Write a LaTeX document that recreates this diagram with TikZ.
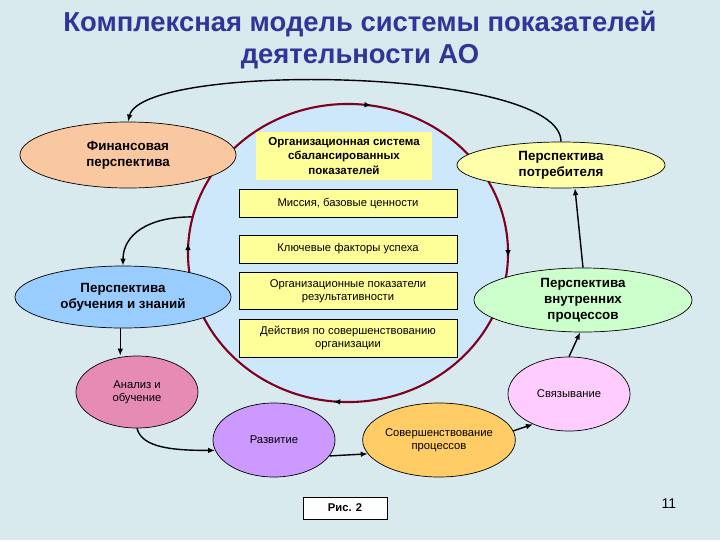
\documentclass[tikz,border=0pt]{standalone}
\usepackage{fontspec}
\setmainfont{Liberation Sans}
\usetikzlibrary{shapes.geometric, arrows.meta, decorations.markings}
\definecolor{bgc}{RGB}{216,234,238}
\definecolor{circc}{RGB}{204,232,250}
\definecolor{bordc}{RGB}{128,0,32}
\definecolor{yelc}{RGB}{255,255,153}
\definecolor{titc}{RGB}{51,51,153}
\definecolor{finc}{RGB}{250,200,160}
\definecolor{potc}{RGB}{255,255,170}
\definecolor{obuc}{RGB}{153,204,255}
\definecolor{vnuc}{RGB}{204,255,204}
\definecolor{anac}{RGB}{230,140,180}
\definecolor{razc}{RGB}{204,153,255}
\definecolor{sovc}{RGB}{255,204,102}
\definecolor{svyc}{RGB}{255,204,255}
\begin{document}
\begin{tikzpicture}[x=0.025cm, y=-0.025cm, >={Latex[length=5pt,width=4pt]},
    every node/.style={font=\fontsize{8}{9.5}\selectfont, align=center},
    ell/.style={ellipse, draw=black, line width=0.5pt, inner sep=0pt},
    persp/.style={ell, font=\bfseries\fontsize{9.5}{11.5}\selectfont},
    smell/.style={ell, minimum width=3.05cm, minimum height=1.85cm},
    ybox/.style={rectangle, draw=black, line width=0.5pt, fill=yelc, minimum width=5.45cm, inner sep=0pt},
    arr/.style={->, line width=1pt},
    circarr/.style={postaction={decorate}, decoration={markings,
      mark=at position 0.003 with {\arrow[black]{Latex[length=5pt,width=4pt,reversed]}},
      mark=at position 0.233 with {\arrow[black]{Latex[length=5pt,width=4pt,reversed]}},
      mark=at position 0.497 with {\arrow[black]{Latex[length=5pt,width=4pt,reversed]}},
      mark=at position 0.742 with {\arrow[black]{Latex[length=5pt,width=4pt,reversed]}}}}]
  % slide background, 720 x 540 px
  \fill[bgc] (0,0) rectangle (720,540);
  \node[text=titc, font=\bfseries\fontsize{19.5}{22.5}\selectfont] (title) at (360,40)
    {Комплексная модель системы показателей\\деятельности АО};
  % central scorecard circle
  \node[ell, draw=bordc, line width=1.5pt, fill=circc, minimum width=8cm,
    minimum height=7.45cm, circarr] (org) at (348,253) {};
  \node[fill=yelc, minimum width=4.375cm, minimum height=1.175cm, inner sep=0pt,
    font=\bfseries\fontsize{8.2}{10}\selectfont] (osys) at (344,156)
    {Организационная система\\сбалансированных\\показателей};
  \node[ybox, minimum height=0.7cm] (mis) at (348,203) {Миссия, базовые ценности};
  \node[ybox, minimum height=0.7cm] (kfu) at (348,249) {Ключевые факторы успеха};
  \node[ybox, minimum height=0.925cm] (opr) at (348,291)
    {Организационные показатели\\результативности};
  \node[ybox, minimum height=0.95cm] (dso) at (348,338)
    {Действия по совершенствованию\\организации};
  % four perspectives
  \node[persp, fill=finc, minimum width=5.4cm, minimum height=1.65cm] (fin) at (128,155)
    {Финансовая\\перспектива};
  \node[persp, fill=potc, minimum width=5.2cm, minimum height=1.15cm] (pot) at (561,165)
    {Перспектива\\потребителя};
  \node[persp, fill=obuc, minimum width=5.4cm, minimum height=1.55cm] (obu) at (123,297)
    {Перспектива\\обучения и знаний};
  \node[persp, fill=vnuc, minimum width=5.45cm, minimum height=1.6cm] (vnu) at (583,300)
    {Перспектива\\внутренних\\процессов};
  % learning cycle
  \node[smell, fill=anac, minimum height=1.8cm] (ana) at (137,392) {Анализ и\\обучение};
  \node[smell, fill=razc] (raz) at (274,440) {Развитие};
  \node[smell, fill=sovc] (sov) at (439,440) {Совершенствование\\процессов};
  \node[smell, fill=svyc] (svy) at (569,394) {Связывание};
  \node[draw=black, fill=white, line width=0.6pt, minimum width=2.1cm, minimum height=0.55cm,
    inner sep=0pt, font=\bfseries\fontsize{8}{9.5}\selectfont] (fig) at (345,508) {Рис. 2};
  \node[font=\fontsize{10}{12}\selectfont] (pnum) at (669,504) {11};
  % connectors
  \draw[arr] (pot.north) .. controls +(0,-75) and +(15,-60) .. (fin.north);
  \draw[arr] (org.167) .. controls +(-45,0) and +(0,-30) .. (obu.north);
  \draw[arr] (obu.265) -- (obu.265 |- ana.north);
  \draw[arr] (ana.south) .. controls +(5,20) and +(-40,0) .. (raz.190);
  \draw[arr] (raz.-16) -- (sov.191);
  \draw[arr] (sov.7) -- (svy.220);
  \draw[arr] (svy.north) -- (vnu.265);
  \draw[arr] (vnu.north) -- (pot.-59);
\end{tikzpicture}
\end{document}
